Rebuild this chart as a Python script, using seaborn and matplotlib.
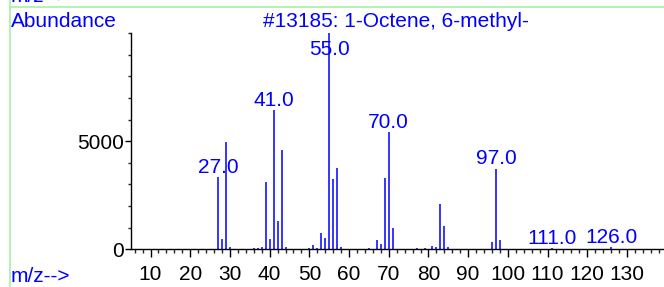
import matplotlib
matplotlib.use("Agg")
import matplotlib.pyplot as plt
from matplotlib.lines import Line2D
from matplotlib.ticker import MultipleLocator
import seaborn as sns
import pandas as pd

# Mass spectrum of 1-Octene, 6-methyl- (library #13185)
mz = [27, 28, 29, 30, 36, 37, 38, 39, 40, 41, 42, 43, 44,
      50, 51, 52, 53, 54, 55, 56, 57, 58, 63, 65, 66, 67, 68, 69, 70, 71, 72,
      77, 79, 81, 82, 83, 84, 85, 96, 97, 98, 111, 126]
abundance = [3330, 470, 4980, 100, 80, 40, 100, 3115, 460, 6420, 1300, 4600, 100,
             60, 200, 50, 740, 510, 9999, 3240, 3750, 120, 30, 80, 30, 415, 230, 3315, 5400, 986, 30,
             40, 40, 150, 90, 2083, 1065, 100, 340, 3731, 445, 60, 90]
labeled = [27, 41, 55, 70, 97, 111, 126]

title = "#13185: 1-Octene, 6-methyl-"
BLUE = "#0000ff"

df = pd.DataFrame({"mz": mz, "abundance": abundance})

sns.set_theme(style="white")
plt.rcParams["font.family"] = ["Liberation Sans", "DejaVu Sans"]

fig = plt.figure(figsize=(6.64, 2.87), dpi=100)
ax = fig.add_axes([0.1968, 0.1314, 0.8025, 0.7537])

ax.vlines(df["mz"], 0, df["abundance"], color=BLUE, linewidth=1.1)

# peak labels above selected bars, kept inside the axes
for m in labeled:
    h = df.loc[df["mz"] == m, "abundance"].iloc[0]
    ax.text(m, min(h + 190, 9000), f"{m:.1f}", color=BLUE, fontsize=15,
            ha="center", va="baseline")

ax.set_xlim(5, 139.2)
ax.set_ylim(0, 10000)
ax.xaxis.set_major_locator(MultipleLocator(10))
ax.xaxis.set_minor_locator(MultipleLocator(2))
ax.set_yticks([0, 5000])
ax.yaxis.set_minor_locator(MultipleLocator(1000))
ax.set_xticks(range(10, 140, 10))

ax.tick_params(axis="x", which="major", direction="out", length=6, width=1,
               labelsize=15, pad=5.5, colors="black", bottom=True)
ax.tick_params(axis="x", which="minor", direction="out", length=3, width=1, bottom=True)
ax.tick_params(axis="y", which="major", direction="out", length=4, width=1,
               labelsize=15, pad=1, colors="black", left=True)
ax.tick_params(axis="y", which="minor", direction="out", length=2, width=1, left=True)

sns.despine(ax=ax, top=True, right=True)
for s in ["left", "bottom"]:
    ax.spines[s].set_color("black")
    ax.spines[s].set_linewidth(1)
ax.patch.set_alpha(0)

# frame and header texts
green = "#a8f0a8"
fig.add_artist(Line2D([10 / 664, 10 / 664], [0, 1], color=green, linewidth=1.2,
                      transform=fig.transFigure))
fig.add_artist(Line2D([10 / 664, 1], [1 - 6.5 / 287, 1 - 6.5 / 287], color=green,
                      linewidth=1.2, transform=fig.transFigure))
fig.text(11 / 664, 1 - 2.5 / 287, "m/z-->", color=BLUE, fontsize=15, va="baseline")
fig.text(11 / 664, 1 - 27 / 287, "Abundance", color=BLUE, fontsize=15, va="baseline")
fig.text(395.5 / 664, 1 - 27 / 287, title, color=BLUE, fontsize=15,
         ha="center", va="baseline")
fig.text(11 / 664, 1 - 282 / 287, "m/z-->", color=BLUE, fontsize=15, va="baseline")

fig.savefig("out.png", dpi=100)
